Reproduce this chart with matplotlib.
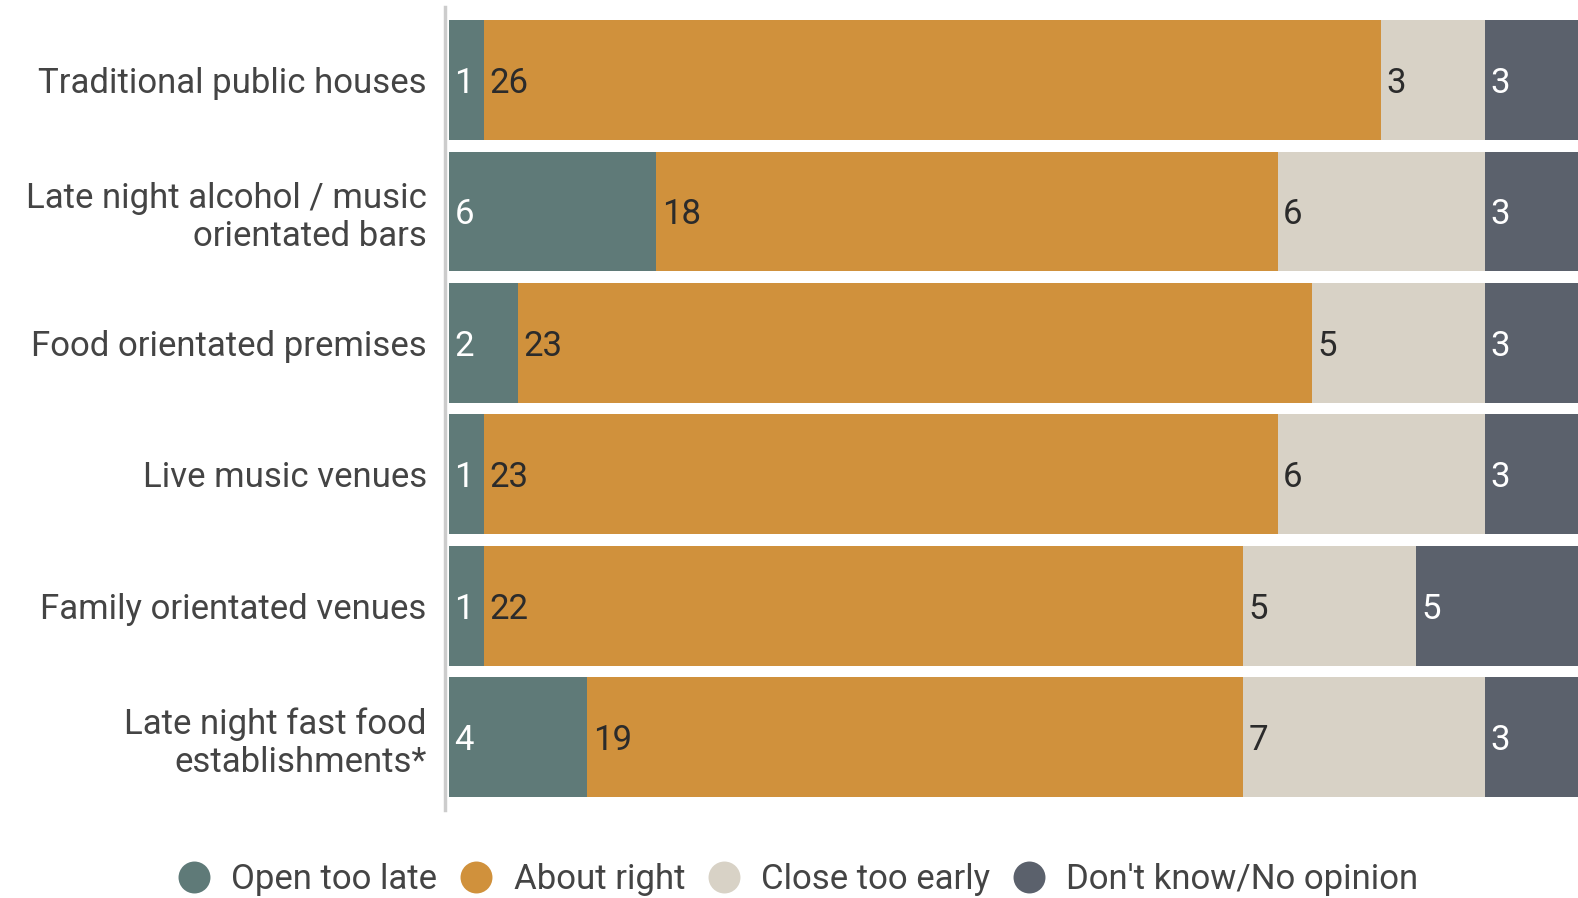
import numpy as np
import matplotlib
matplotlib.use("Agg")
import matplotlib.pyplot as plt
from matplotlib.lines import Line2D

plt.rcParams["font.family"] = ["Roboto", "DejaVu Sans"]

categorias = [
    "Traditional public houses",
    "Late night alcohol / music\norientated bars",
    "Food orientated premises",
    "Live music venues",
    "Family orientated venues",
    "Late night fast food\nestablishments*",
]
open_too_late = [1, 6, 2, 1, 1, 4]
about_right = [26, 18, 23, 23, 22, 19]
close_too_early = [3, 6, 5, 6, 5, 7]
dont_know = [3, 3, 3, 3, 5, 3]

series = [
    ("Open too late", open_too_late, "#5f7a78", "white"),
    ("About right", about_right, "#d0913c", "#2b2b2b"),
    ("Close too early", close_too_early, "#d8d2c6", "#2b2b2b"),
    ("Don't know/No opinion", dont_know, "#5b616c", "white"),
]

fig = plt.figure(figsize=(15.78, 8.98), dpi=100)
ax = fig.add_axes([449 / 1578, 0.098, 1 - 449 / 1578, 0.8942])

y = np.arange(len(categorias))
izq = np.zeros(len(categorias))
for nombre, valores, color, color_texto in series:
    valores = np.array(valores, dtype=float)
    ax.barh(y, valores, left=izq, height=0.91, color=color, edgecolor="none")
    for yi, xi, v in zip(y, izq, valores):
        ax.annotate(f"{int(v)}", (xi, yi), xytext=(4, 0), textcoords="offset points",
                    va="center_baseline", ha="left", fontsize=25, color=color_texto)
    izq += valores

ax.set_xlim(0, 32.7)
ax.set_ylim(len(categorias) - 0.446, -0.555)
ax.set_yticks(y)
ax.tick_params(axis="y", length=0, pad=13, labelsize=25, labelcolor="#444444")
ax.set_yticklabels(categorias, linespacing=1.05)
ax.set_xticks([])
for lado in ["top", "right", "bottom"]:
    ax.spines[lado].set_visible(False)
ax.spines["left"].set_color("#cccccc")
ax.spines["left"].set_linewidth(2.5)
ax.spines["left"].set_position(("outward", 3))

handles = [Line2D([], [], marker="o", linestyle="none", markersize=23,
                  markerfacecolor=c, markeredgecolor="none") for _, _, c, _ in series]
fig.legend(handles, [s[0] for s in series], loc="lower center", ncol=4,
           bbox_to_anchor=(0.5, -0.033), frameon=False, fontsize=25,
           labelcolor="#444444", handletextpad=0.07, columnspacing=0.12)

fig.savefig("out.png", dpi=100)
